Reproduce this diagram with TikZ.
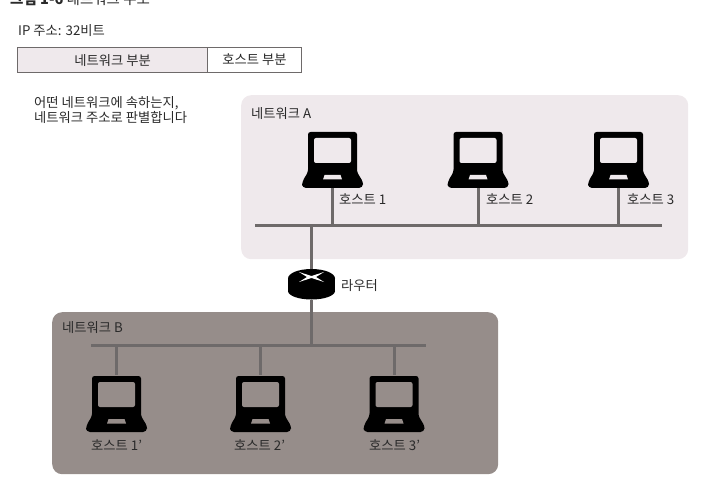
\documentclass[tikz,border=0pt]{standalone}
\usepackage{fontspec}
\setmainfont{Noto Sans CJK KR}
\usetikzlibrary{calc,positioning}
\definecolor{netA}{HTML}{EFE9EC}
\definecolor{netB}{HTML}{968D8A}
\definecolor{wire}{HTML}{6E6A6A}
\definecolor{txt}{HTML}{2A2A2A}
\tikzset{
  lbl/.style={inner sep=0pt,text=txt,font=\fontsize{13.3}{15}\selectfont,align=left},
  netbox/.style={rounded corners=10pt,draw=none},
  cell/.style={draw=wire,line width=1.1pt,minimum height=25pt,inner sep=0pt,text=txt,font=\fontsize{13.3}{15}\selectfont},
  wireline/.style={draw=wire,line width=3pt},
  hostbox/.style={minimum width=61pt,minimum height=56pt,inner sep=0pt,draw=none},
  pics/laptop/.style={code={
    \fill[black,rounded corners=2.5pt] (-24.5,-28) -- (24.5,-28) -- (24.5,12) -- (30.5,22)
      [rounded corners=4pt] -- (30.5,28) -- (-30.5,28) -- (-30.5,22) [rounded corners=2.5pt] -- (-24.5,12) -- cycle;
    \fill[#1,rounded corners=2pt] (-18.5,-22) rectangle (18.5,3);
    \fill[#1] (-8,15) -- (8,15) -- (9.5,19.5) -- (-9.5,19.5) -- cycle;
  }}
}
\begin{document}
\begin{tikzpicture}[x=1pt,y=-1pt]
\useasboundingbox (0,0) rectangle (703,486);
% title and IP bar
\node[lbl,anchor=base west,font=\fontsize{14.5}{16}\selectfont] (title) at (10,5) {\textbf{그림 1-6} 네트워크 주소};
\node[lbl,anchor=base west] (ip) at (18,36) {IP 주소: 32비트};
\node[cell,fill=netA,minimum width=190pt,anchor=north west] (netpart) at (17,47) {네트워크 부분};
\node[cell,fill=white,minimum width=94pt,anchor=north west] (hostpart) at (207,47) {호스트 부분};
\node[lbl,anchor=north west] (note) at (34,96) {어떤 네트워크에 속하는지,\\네트워크 주소로 판별합니다};
% network regions
\node[netbox,fill=netA,minimum width=447pt,minimum height=164pt,anchor=north west,inner sep=0pt] (regA) at (241,95) {};
\node[netbox,fill=netB,minimum width=446pt,minimum height=162pt,anchor=north west,inner sep=0pt] (regB) at (52,312) {};
\node[lbl,anchor=base west] (nameA) at (251,118.5) {네트워크 A};
\node[lbl,anchor=base west] (nameB) at (62,332) {네트워크 B};
% buses
\coordinate (busAl) at (255,225);
\coordinate (busAr) at (662,225);
\coordinate (busBl) at (91,345);
\coordinate (busBr) at (426,345);
% hosts
\node[hostbox] (a1) at (332.5,160) {};
\node[hostbox] (a2) at (478,160) {};
\node[hostbox] (a3) at (618.5,160) {};
\node[hostbox] (b1) at (116.5,404) {};
\node[hostbox] (b2) at (260.5,404) {};
\node[hostbox] (b3) at (394,404) {};
\coordinate (ja) at (311.5,225);
\coordinate (jb) at (311.5,345);
\node[minimum width=47pt,minimum height=30pt,inner sep=0pt] (router) at (311.5,284.5) {};
% wires
\draw[wireline] (busAl) -- (busAr);
\draw[wireline] (busBl) -- (busBr);
\foreach \h in {a1,a2,a3} \draw[wireline] (\h.south) -- (\h.south |- busAl);
\foreach \h in {b1,b2,b3} \draw[wireline] (\h.north) ++(0,-1) -- (\h.north |- busBl);
\draw[wireline] (ja) -- (router.north);
\draw[wireline] (router.south) -- (jb);
% laptops
\pic at (a1) {laptop=netA};
\pic at (a2) {laptop=netA};
\pic at (a3) {laptop=netA};
\pic at (b1) {laptop=netB};
\pic at (b2) {laptop=netB};
\pic at (b3) {laptop=netB};
% router
\fill[black] (311.5,278.5) ellipse [x radius=23.5,y radius=9.5];
\fill[black] (311.5,291) ellipse [x radius=23.5,y radius=8.5];
\fill[black] (288,278.5) rectangle (335,291);
\fill[white] (299,272) -- (311.5,276) -- (324,272) -- (316,277) -- (324,282) -- (311.5,278) -- (299,282) -- (307,277) -- cycle;
% labels
\node[lbl,anchor=base west] (la1) at (339,205) {호스트 1};
\node[lbl,anchor=base west] (la2) at (486,205) {호스트 2};
\node[lbl,anchor=base west] (la3) at (627,205) {호스트 3};
\node[lbl,anchor=base west] (lb1) at (91,450) {호스트 1'};
\node[lbl,anchor=base west] (lb2) at (234,450) {호스트 2'};
\node[lbl,anchor=base west] (lb3) at (369,450) {호스트 3'};
\node[lbl,anchor=base west] (lr) at (341,290) {라우터};
\end{tikzpicture}
\end{document}
